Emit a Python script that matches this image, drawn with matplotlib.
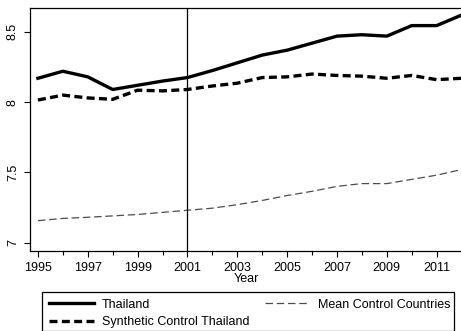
import numpy as np
import matplotlib.pyplot as plt
from matplotlib.patches import Rectangle

plt.rcParams['font.family'] = ['Liberation Sans', 'DejaVu Sans']

years = np.arange(1995, 2013)

thailand = [8.17, 8.22, 8.18, 8.09, 8.12, 8.15, 8.175, 8.225, 8.28, 8.335,
            8.37, 8.42, 8.47, 8.48, 8.47, 8.545, 8.545, 8.62]
synthetic = [8.015, 8.05, 8.03, 8.02, 8.085, 8.08, 8.09, 8.115, 8.135, 8.175,
             8.18, 8.2, 8.19, 8.185, 8.17, 8.19, 8.16, 8.17]
mean_control = [7.156, 7.172, 7.18, 7.19, 7.2, 7.215, 7.23, 7.245, 7.27, 7.30,
                7.335, 7.365, 7.40, 7.42, 7.42, 7.45, 7.48, 7.52]

labels = ['Thailand', 'Synthetic Control Thailand', 'Mean Control Countries']
xticks = np.arange(1995, 2012, 2)
yticks = [7, 7.5, 8, 8.5]

W, H = 461, 331
fig = plt.figure(figsize=(W / 100, H / 100), dpi=100)
ax = fig.add_axes([0.065, 0.2417, 0.94, 0.734])

l1, = ax.plot(years, thailand, color='black', lw=2.4, solid_joinstyle='round')
l2, = ax.plot(years, synthetic, color='black', lw=2.4, ls=(0, (2.4, 1.3)))
l3, = ax.plot(years, mean_control, color='#4d4d4d', lw=0.9, ls=(0, (6, 3)))
ax.axvline(2001, color='black', lw=0.9)

ax.set_xlim(1994.68, 2012.07)
ax.set_ylim(6.94, 8.67)
ax.set_xticks(xticks)
ax.set_xticks(np.arange(1996, 2013, 2), minor=True)
ax.set_yticks(yticks)
ax.set_yticklabels(['7', '7.5', '8', '8.5'], rotation=90, va='center')
ax.tick_params(axis='both', labelsize=9, length=4, width=0.8,
               direction='out', pad=4)
ax.tick_params(axis='x', which='minor', length=3, width=0.8)
ax.set_xlabel('Year', fontsize=9, labelpad=-1)
ax.spines['right'].set_visible(False)
for s in ['left', 'bottom', 'top']:
    ax.spines[s].set_linewidth(0.9)

# legend box drawn separately so it can be wider than its contents
fig.patches.append(Rectangle((42 / W, 0.0), 412 / W, 39 / H,
                             transform=fig.transFigure, fill=False,
                             edgecolor='black', lw=0.9))
fig.legend([l1, l2, l3], labels, ncol=2, fontsize=9,
           bbox_to_anchor=(42 / W, 1 - 292 / H), loc='upper left',
           borderaxespad=0, frameon=False,
           handlelength=3.6, handletextpad=0.64, labelspacing=0.45,
           borderpad=0.52, columnspacing=1.28)

fig.savefig('out.png', dpi=100)
